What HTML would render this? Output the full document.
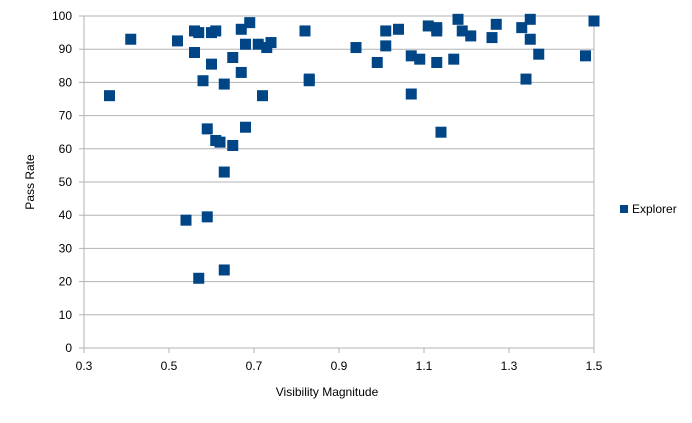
<!DOCTYPE html>
<html><head><meta charset="utf-8"><style>
body{margin:0;background:#fff;font-family:"Liberation Sans",sans-serif;}
svg text{font-family:"Liberation Sans",sans-serif;font-size:12px;fill:#000}
</style></head><body>
<svg id="chart" width="692" height="418"></svg>
<script>
const xVals=[0.36,0.41,0.52,0.54,0.56,0.56,0.57,0.57,0.58,0.59,0.59,0.60,0.60,0.61,0.61,0.62,0.63,0.63,0.63,0.65,0.65,0.67,0.67,0.68,0.68,0.69,0.71,0.72,0.73,0.74,0.82,0.83,0.83,0.94,0.99,1.01,1.01,1.04,1.07,1.07,1.09,1.11,1.13,1.13,1.13,1.14,1.17,1.18,1.19,1.21,1.26,1.27,1.33,1.34,1.35,1.35,1.37,1.48,1.50];
const yVals=[76,93,92.5,38.5,95.5,89,95,21,80.5,66,39.5,95,85.5,62.5,95.5,62,79.5,53,23.5,87.5,61,96,83,91.5,66.5,98,91.5,76,90.5,92,95.5,81,80.5,90.5,86,95.5,91,96,88,76.5,87,97,96.5,95.5,86,65,87,99,95.5,94,93.5,97.5,96.5,81,99,93,88.5,88,98.5];
const xTicks=[0.3,0.5,0.7,0.9,1.1,1.3,1.5];
const yTicks=[0,10,20,30,40,50,60,70,80,90,100];
const L=84,R=594,T=16,B=348;
const xs=v=>L+(v-0.3)/(1.2)*(R-L);
const ys=v=>B-v/100*(B-T);
const svg=document.getElementById('chart');
const NS='http://www.w3.org/2000/svg';
function mk(t,a){const e=document.createElementNS(NS,t);for(const k in a)e.setAttribute(k,a[k]);svg.appendChild(e);return e;}
yTicks.forEach(v=>{
 const g=mk('line',{x1:L,x2:R,y1:ys(v),y2:ys(v),stroke:'#b3b3b3','stroke-width':1});
 
 
 const tk=mk('line',{x1:L-5,x2:L,y1:ys(v),y2:ys(v),stroke:'#b3b3b3'});
 
 
 const t=mk('text',{x:L-12,y:ys(v)+4,'text-anchor':'end'});t.textContent=v;
 
 
});
xTicks.forEach(v=>{
 const tk=mk('line',{x1:xs(v),x2:xs(v),y1:B,y2:B+5,stroke:'#b3b3b3'});
 
 
 const t=mk('text',{x:xs(v),y:B+22,'text-anchor':'middle'});t.textContent=v;
 
 
});
const ax1=mk('line',{x1:L,x2:L,y1:T,y2:B,stroke:'#b3b3b3'});


const ax2=mk('line',{x1:R,x2:R,y1:T,y2:B,stroke:'#b3b3b3'});


xVals.forEach((x,i)=>{
 const p=mk('rect',{x:xs(x)-5.5,y:ys(yVals[i])-5.5,width:11,height:11,fill:'#004586'});
 
 
});
const yt=mk('text',{x:34,y:182,'text-anchor':'middle',transform:'rotate(-90 34 182)'});yt.textContent='Pass Rate';


const xt=mk('text',{x:327,y:396,'text-anchor':'middle'});xt.textContent='Visibility Magnitude';


const lm=mk('rect',{x:620,y:205,width:8,height:8,fill:'#004586'});


const lt=mk('text',{x:632,y:213});lt.textContent='Explorer';


</script>
</body></html>
